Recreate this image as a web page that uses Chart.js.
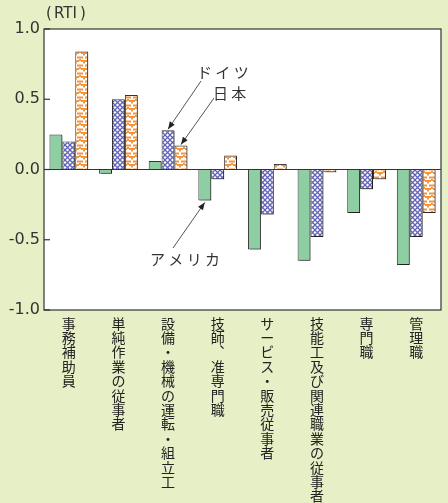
<!DOCTYPE html>
<html><head><meta charset="utf-8">
<script src="https://cdn.jsdelivr.net/npm/chart.js@4.4.0/dist/chart.umd.min.js"></script>
<style>html,body{margin:0;padding:0;background:#e6efc6;}#wrap{width:448px;height:503px;}</style>
</head><body><div id="wrap"><canvas id="c" width="448" height="503"></canvas></div>
<script>
const categories = ['事務補助員','単純作業の従事者','設備・機械の運転・組立工','技師、准専門職','サービス・販売従事者','技能工及び関連職業の従事者','専門職','管理職'];
const usValues = [0.25, -0.03, 0.06, -0.22, -0.57, -0.65, -0.31, -0.68];
const deValues = [0.20, 0.50, 0.28, -0.07, -0.32, -0.48, -0.14, -0.48];
const jpValues = [0.84, 0.53, 0.17, 0.10, 0.04, -0.02, -0.07, -0.31];
const yTicks = [-1.0, -0.5, 0.0, 0.5, 1.0];
const FONT = '"Noto Sans CJK JP", "Noto Sans", sans-serif';
const NUMFONT = '"DejaVu Sans", sans-serif';

function makeDePattern(){
  const c = document.createElement('canvas'); c.width = 5; c.height = 5;
  const g = c.getContext('2d');
  g.fillStyle = '#ffffff'; g.fillRect(0,0,5,5);
  g.strokeStyle = '#6363b8'; g.lineWidth = 1.3;
  g.beginPath(); g.moveTo(0,0); g.lineTo(5,5); g.moveTo(5,0); g.lineTo(0,5); g.stroke();
  return g.createPattern(c,'repeat');
}
function makeJpPattern(){
  const c = document.createElement('canvas'); c.width = 8; c.height = 8;
  const g = c.getContext('2d');
  g.fillStyle = '#ffffff'; g.fillRect(0,0,8,8);
  g.fillStyle = '#f5963f';
  g.fillRect(0,0.5,3,2); g.fillRect(5,0.5,3,2);
  g.fillRect(1,4,6,2); g.fillRect(3,5,2,2.5);
  g.fillRect(0,3,1,2); g.fillRect(7,3,1,2);
  return g.createPattern(c,'repeat');
}

// vertical text: one character per line (vertical form of the ideographic comma)
const labels = categories.map(s => Array.from(s.replace('、', '\uFE11')));

const bgPlugin = {
  id: 'bg',
  beforeDraw(chart){
    const {ctx, chartArea:a} = chart;
    ctx.save();
    ctx.fillStyle = '#e6efc6'; ctx.fillRect(0,0,chart.width,chart.height);
    ctx.fillStyle = '#ffffff'; ctx.fillRect(a.left,a.top,a.right-a.left,a.bottom-a.top);
    ctx.restore();
  },
  beforeDatasetsDraw(chart){
    const ctx = chart.ctx;
    ctx.save();
    ctx.shadowColor = 'rgba(0,0,0,0.35)';
    ctx.shadowOffsetX = 2; ctx.shadowOffsetY = 1; ctx.shadowBlur = 0;
  },
  afterDatasetsDraw(chart){
    chart.ctx.restore();
  },
  afterDraw(chart){
    const {ctx, chartArea:a, scales} = chart;
    ctx.save();
    ctx.strokeStyle = '#333'; ctx.lineWidth = 1.2;
    ctx.strokeRect(a.left, a.top, a.right-a.left, a.bottom-a.top);
    const y0 = scales.y.getPixelForValue(0);
    ctx.beginPath(); ctx.moveTo(a.left,y0); ctx.lineTo(a.right,y0); ctx.stroke();
    yTicks.forEach(v => {
      const y = scales.y.getPixelForValue(v);
      ctx.beginPath(); ctx.moveTo(a.left,y); ctx.lineTo(a.left+6,y); ctx.stroke();
    });
    ctx.fillStyle = '#333'; ctx.textBaseline = 'middle';
    ctx.font = '15px ' + NUMFONT;
    ctx.fillText('(', 46, 14);
    const rw = ctx.measureText('RTI').width;
    ctx.fillText('RTI', 54, 14);
    ctx.fillText(')', 54 + rw + 3, 14);
    ctx.font = '15px ' + FONT;
    ctx.fillText('ド イ ツ', 197, 72);
    ctx.fillText('日 本', 213, 93);
    ctx.fillText('ア メ リ カ', 150, 259);
    function arrow(x1,y1,x2,y2){
      ctx.strokeStyle = '#555'; ctx.lineWidth = 1;
      ctx.beginPath(); ctx.moveTo(x1,y1); ctx.lineTo(x2,y2); ctx.stroke();
      const ang = Math.atan2(y2-y1,x2-x1), L = 8, w = 0.38;
      ctx.fillStyle = '#222';
      ctx.beginPath(); ctx.moveTo(x2,y2);
      ctx.lineTo(x2-L*Math.cos(ang-w), y2-L*Math.sin(ang-w));
      ctx.lineTo(x2-L*Math.cos(ang+w), y2-L*Math.sin(ang+w));
      ctx.closePath(); ctx.fill();
    }
    const bDe = chart.getDatasetMeta(1).data[2];
    const bJp = chart.getDatasetMeta(2).data[2];
    const bUs = chart.getDatasetMeta(0).data[3];
    arrow(201, 81, bDe.x, bDe.y - 1);
    arrow(214, 98, bJp.x, bJp.y - 1);
    arrow(173, 248, bUs.x, bUs.y + 2);
    ctx.restore();
  }
};

new Chart(document.getElementById('c'), {
  type: 'bar',
  data: {
    labels: labels,
    datasets: [
      { label: 'アメリカ', data: usValues, backgroundColor: '#8dcea2', borderColor: '#333', borderWidth: 1 },
      { label: 'ドイツ', data: deValues, backgroundColor: makeDePattern(), borderColor: '#333', borderWidth: 1 },
      { label: '日本', data: jpValues, backgroundColor: makeJpPattern(), borderColor: '#333', borderWidth: 1 }
    ]
  },
  options: {
    responsive: false, animation: false, devicePixelRatio: 1,
    layout: { padding: { top: 29, right: 7, left: 0, bottom: 0 } },
    categoryPercentage: 0.78, barPercentage: 1.0,
    plugins: { legend: { display: false }, tooltip: { enabled: false } },
    scales: {
      x: {
        grid: { display: false, drawTicks: false }, border: { display: false },
        ticks: { color: '#222', font: { family: FONT, size: 14, lineHeight: '14.4px' }, padding: 6, maxRotation: 0, autoSkip: false },
        afterFit(s){ s.height = 193; }
      },
      y: {
        min: -1, max: 1,
        afterBuildTicks(s){ s.ticks = yTicks.map(v => ({ value: v })); },
        grid: { display: false, drawTicks: false }, border: { display: false },
        ticks: { color: '#333', font: { family: NUMFONT, size: 16 }, padding: 4, callback: v => v.toFixed(1) },
        afterFit(s){ s.width = 44; }
      }
    }
  },
  plugins: [bgPlugin]
});
</script></body></html>
